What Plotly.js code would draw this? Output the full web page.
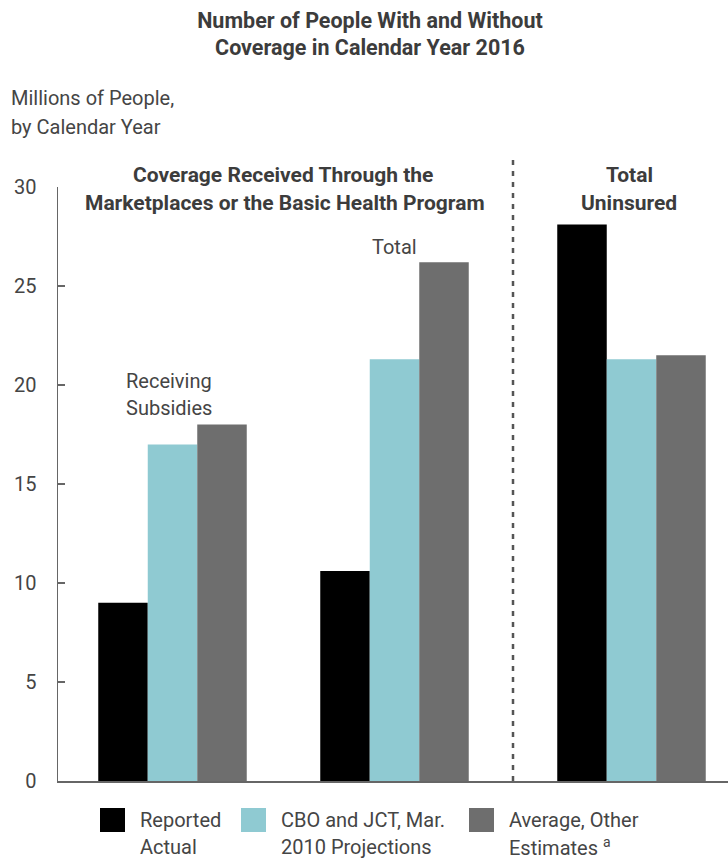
<!DOCTYPE html>
<html>
<head>
<meta charset="utf-8">
<script src="https://cdn.plot.ly/plotly-3.0.1.min.js"></script>
<style>
  html, body { margin: 0; padding: 0; background: #fff; }
  #chart { width: 728px; height: 859px; }
</style>
</head>
<body>
<div id="chart"></div>
<script>
// ---- Data ----
const categories = ['Receiving Subsidies', 'Total', 'Total Uninsured'];
const seriesNames = ['Reported Actual', 'CBO and JCT, Mar. 2010 Projections', 'Average, Other Estimates'];
const reportedActual = [9.0, 10.6, 28.1];
const cboJct2010 = [17.0, 21.3, 21.3];
const averageOther = [18.0, 26.2, 21.5];
const yTickValues = [0, 5, 10, 15, 20, 25, 30];
const legendLines = [['Reported', 'Actual'], ['CBO and JCT, Mar.', '2010 Projections'], ['Average, Other', 'Estimates <sup>a</sup>']];

// ---- Layout constants (pixel geometry) ----
const W = 728, H = 859;
const M = { l: 58, r: 0, t: 187, b: 78 };
const plotW = W - M.l - M.r, plotH = H - M.t - M.b;
// group centres on the x axis (axis units = pixels from the y axis)
const groupPositions = [114.5, 336.5, 573.5];
const colors = ['#000000', '#8fcad2', '#6e6e6e'];
const textColor = '#454545';
const boldColor = '#3c3c3c';
const FONT = 'Roboto, "Open Sans", Arial, sans-serif';

const xp = px => (px - M.l) / plotW;
const yp = py => (H - M.b - py) / plotH;

const seriesValues = [reportedActual, cboJct2010, averageOther];
const traces = seriesValues.map((vals, i) => ({
  type: 'bar',
  name: seriesNames[i],
  x: groupPositions,
  y: vals,
  customdata: categories,
  hovertemplate: '%{customdata}: %{y}<extra>' + seriesNames[i] + '</extra>',
  marker: { color: colors[i], line: { width: 0 } },
  showlegend: false
}));

function ann(text, pxX, pxY, opts) {
  return Object.assign({
    text: text, xref: 'paper', yref: 'paper', x: xp(pxX), y: yp(pxY),
    xanchor: 'center', yanchor: 'middle', showarrow: false,
    font: { family: FONT, size: 20, color: textColor }
  }, opts || {});
}
const bold = { family: FONT, size: 21, color: boldColor, weight: 'bold' };

const annotations = [
  ann('Millions of People,', 9, 98, { xanchor: 'left' }),
  ann('by Calendar Year', 9, 127, { xanchor: 'left' }),
  ann('Coverage Received Through the', 283, 175, { font: bold }),
  ann('Marketplaces or the Basic Health Program', 285, 203, { font: bold }),
  ann('Total', 629, 175, { font: bold }),
  ann('Uninsured', 629, 203, { font: bold }),
  ann('Receiving', 169, 381),
  ann('Subsidies', 169, 408),
  ann('Total', 394, 247)
];

const legendX = [100, 241, 469];
const shapes = [
  { type: 'line', xref: 'paper', yref: 'paper', x0: xp(513), x1: xp(513), y0: 0, y1: yp(160),
    line: { color: '#555555', width: 2.5, dash: '5px,6px' } }
];
legendLines.forEach((lines, i) => {
  shapes.push({ type: 'rect', xref: 'paper', yref: 'paper',
    x0: xp(legendX[i]), x1: xp(legendX[i] + 25), y0: yp(808), y1: yp(832),
    line: { width: 0 }, fillcolor: colors[i] });
  annotations.push(ann(lines[0], legendX[i] + 38, 820, { xanchor: 'left' }));
  annotations.push(ann(lines[1], legendX[i] + 38, 847, { xanchor: 'left' }));
});

const layout = {
  width: W, height: H,
  margin: M,
  paper_bgcolor: '#ffffff', plot_bgcolor: '#ffffff',
  title: {
    text: 'Number of People With and Without<br>Coverage in Calendar Year 2016',
    font: { family: FONT, size: 21.5, color: boldColor, weight: 'bold' },
    xref: 'paper', x: xp(370), xanchor: 'center',
    yref: 'container', y: 1 - 27.5 / H, yanchor: 'middle'
  },
  barmode: 'group',
  bargap: 1 - 148.5 / 222,
  bargroupgap: 0,
  xaxis: {
    type: 'linear', range: [0, plotW], fixedrange: true,
    showgrid: false, zeroline: false, showticklabels: false, ticks: '',
    showline: true, linecolor: '#666666', linewidth: 1.5
  },
  yaxis: {
    range: [0, 30], fixedrange: true,
    tickvals: yTickValues, ticktext: yTickValues.map(String),
    showgrid: false, zeroline: false,
    showline: true, linecolor: '#666666', linewidth: 1.5,
    ticks: 'inside', ticklen: 7, tickwidth: 1.5, tickcolor: '#666666',
    ticklabelstandoff: 16,
    tickfont: { family: FONT, size: 20, color: textColor }
  },
  annotations: annotations,
  shapes: shapes,
  showlegend: false
};

Plotly.newPlot('chart', traces, layout, { displayModeBar: false, staticPlot: true });
</script>
</body>
</html>
